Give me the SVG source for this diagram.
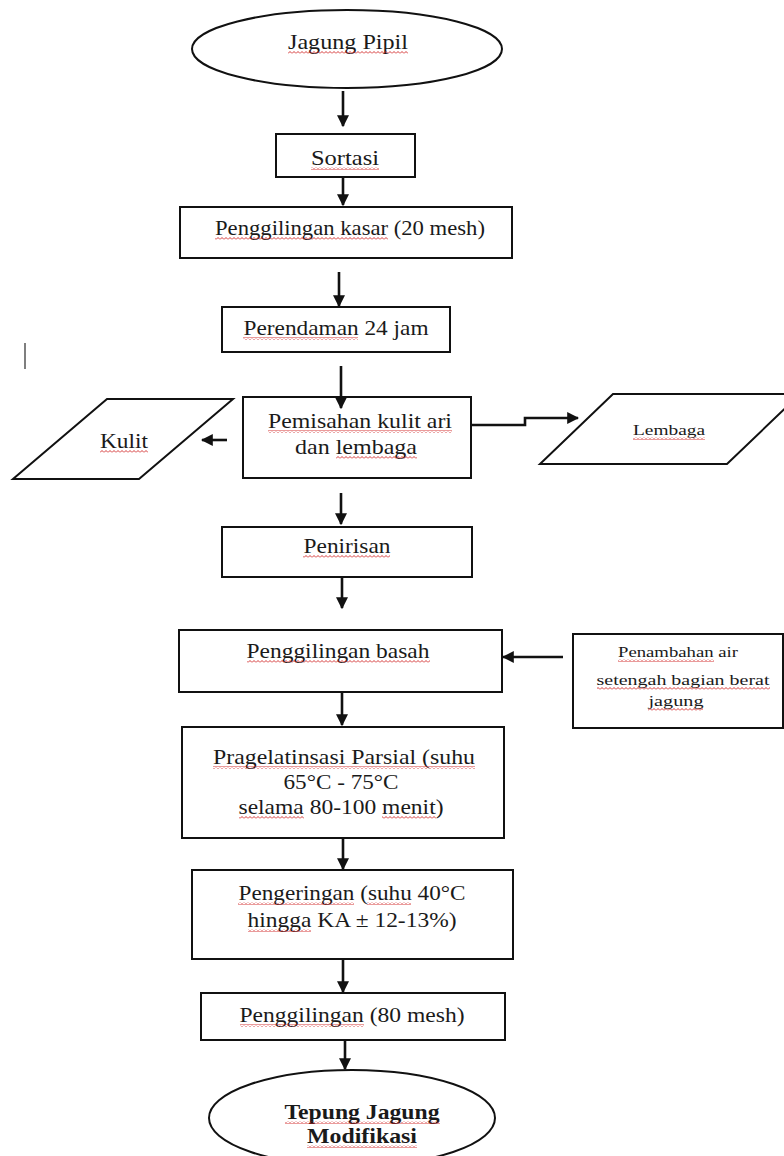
<svg xmlns="http://www.w3.org/2000/svg" width="784" height="1156" viewBox="0 0 784 1156">
<style>
.n{fill:#fff;stroke:#111;stroke-width:2}
.t{font-family:"Liberation Serif","Times New Roman",serif;font-size:21px;fill:#1a1a1a;text-anchor:middle}
.s{font-size:15px}
.b{font-weight:bold}
.c{fill:none;stroke:#111;stroke-width:2.6}
.sq{fill:url(#sq)}
</style>
<defs>
<marker id="ah" markerUnits="userSpaceOnUse" markerWidth="12" markerHeight="12" viewBox="0 0 10 10" refX="9" refY="5" orient="auto">
<path d="M0,0 L10,5 L0,10 z" fill="#111"/>
</marker>
<pattern id="sq" patternUnits="userSpaceOnUse" width="4" height="3">
<path d="M0,2.5 L2,0.5 L4,2.5" fill="none" stroke="#d02020" stroke-width="0.9"/>
</pattern>
</defs>
<rect width="784" height="1156" fill="#fff"/>
<line x1="25" y1="343" x2="25" y2="369" stroke="#555" stroke-width="1.5"/>
<g id="jagung-pipil">
<ellipse class="n" cx="347" cy="49" rx="155" ry="39"/>
<text class="t" x="348" y="49" textLength="120" lengthAdjust="spacingAndGlyphs">Jagung Pipil</text>
<rect class="sq" x="288" y="51" width="120" height="3"/>
</g>
<g id="sortasi">
<rect class="n" x="276" y="134" width="139" height="43"/>
<text class="t" x="345" y="165" textLength="68" lengthAdjust="spacingAndGlyphs">Sortasi</text>
<rect class="sq" x="311" y="167" width="68" height="3"/>
</g>
<g id="penggilingan-kasar">
<rect class="n" x="180" y="207" width="332" height="51"/>
<text class="t" x="350" y="235" textLength="270" lengthAdjust="spacingAndGlyphs">Penggilingan kasar (20 mesh)</text>
<rect class="sq" x="215" y="237" width="173" height="3"/>
</g>
<g id="perendaman">
<rect class="n" x="222" y="307" width="228" height="45"/>
<text class="t" x="336" y="335" textLength="185" lengthAdjust="spacingAndGlyphs">Perendaman 24 jam</text>
<rect class="sq" x="243" y="337" width="115" height="3"/>
</g>
<g id="pemisahan">
<rect class="n" x="243" y="397" width="228" height="81"/>
<text class="t" x="360" y="428" textLength="184" lengthAdjust="spacingAndGlyphs">Pemisahan kulit ari</text>
<text class="t" x="356" y="454" textLength="122" lengthAdjust="spacingAndGlyphs">dan lembaga</text>
<rect class="sq" x="268" y="430" width="184" height="3"/>
<rect class="sq" x="336" y="456" width="81" height="3"/>
</g>
<g id="kulit">
<polygon class="n" points="107,399 233,399 139,479 13,479"/>
<text class="t" x="124" y="448" textLength="48" lengthAdjust="spacingAndGlyphs">Kulit</text>
<rect class="sq" x="100" y="450" width="48" height="3"/>
</g>
<g id="lembaga">
<polygon class="n" points="613,394 800,394 727,464 540,464"/>
<text class="t s" x="669" y="435" textLength="72" lengthAdjust="spacingAndGlyphs">Lembaga</text>
<rect class="sq" x="633" y="437" width="72" height="3"/>
</g>
<g id="penirisan">
<rect class="n" x="222" y="527" width="250" height="50"/>
<text class="t" x="347" y="553" textLength="87" lengthAdjust="spacingAndGlyphs">Penirisan</text>
<rect class="sq" x="303" y="555" width="87" height="3"/>
</g>
<g id="penggilingan-basah">
<rect class="n" x="179" y="630" width="323" height="62"/>
<text class="t" x="338" y="658" textLength="183" lengthAdjust="spacingAndGlyphs">Penggilingan basah</text>
<rect class="sq" x="247" y="660" width="183" height="3"/>
</g>
<g id="penambahan-air">
<rect class="n" x="573" y="634" width="210" height="94"/>
<text class="t s" x="678" y="657" textLength="120" lengthAdjust="spacingAndGlyphs">Penambahan air</text>
<text class="t s" x="683" y="685" textLength="173" lengthAdjust="spacingAndGlyphs">setengah bagian berat</text>
<text class="t s" x="676" y="706" textLength="55" lengthAdjust="spacingAndGlyphs">jagung</text>
<rect class="sq" x="618" y="659" width="96" height="3"/>
<rect class="sq" x="597" y="687" width="173" height="3"/>
<rect class="sq" x="648" y="708" width="55" height="3"/>
</g>
<g id="pragelatinisasi">
<rect class="n" x="182" y="727" width="322" height="111"/>
<text class="t" x="344" y="764" textLength="262" lengthAdjust="spacingAndGlyphs">Pragelatinsasi Parsial (suhu</text>
<text class="t" x="341" y="789" textLength="115" lengthAdjust="spacingAndGlyphs">65°C - 75°C</text>
<text class="t" x="341" y="814" textLength="205" lengthAdjust="spacingAndGlyphs">selama 80-100 menit)</text>
<rect class="sq" x="213" y="766" width="262" height="3"/>
<rect class="sq" x="239" y="816" width="65" height="3"/>
<rect class="sq" x="382" y="816" width="54" height="3"/>
</g>
<g id="pengeringan">
<rect class="n" x="192" y="870" width="321" height="89"/>
<text class="t" x="352" y="900" textLength="227" lengthAdjust="spacingAndGlyphs">Pengeringan (suhu 40°C</text>
<text class="t" x="352" y="927" textLength="209" lengthAdjust="spacingAndGlyphs">hingga KA ± 12-13%)</text>
<rect class="sq" x="238" y="902" width="116" height="3"/>
<rect class="sq" x="367" y="902" width="44" height="3"/>
<rect class="sq" x="248" y="929" width="63" height="3"/>
</g>
<g id="penggilingan-80">
<rect class="n" x="201" y="993" width="304" height="47"/>
<text class="t" x="352" y="1022" textLength="225" lengthAdjust="spacingAndGlyphs">Penggilingan (80 mesh)</text>
<rect class="sq" x="240" y="1024" width="124" height="3"/>
</g>
<g id="tepung-jagung-modifikasi">
<ellipse class="n" cx="352" cy="1118" rx="143" ry="48"/>
<text class="t b" x="362" y="1119" textLength="155" lengthAdjust="spacingAndGlyphs">Tepung Jagung</text>
<text class="t b" x="362" y="1143" textLength="110" lengthAdjust="spacingAndGlyphs">Modifikasi</text>
<rect class="sq" x="285" y="1121" width="155" height="3"/>
<rect class="sq" x="307" y="1145" width="110" height="3"/>
</g>
<g id="connectors">
<line class="c" x1="343" y1="91" x2="343" y2="126" marker-end="url(#ah)"/>
<line class="c" x1="343" y1="178" x2="343" y2="205" marker-end="url(#ah)"/>
<line class="c" x1="339" y1="272" x2="339" y2="306" marker-end="url(#ah)"/>
<line class="c" x1="341" y1="366" x2="341" y2="408" marker-end="url(#ah)"/>
<line class="c" x1="227" y1="440" x2="202" y2="440" marker-end="url(#ah)"/>
<path class="c" d="M472,425 H525 V418 H578" marker-end="url(#ah)"/>
<line class="c" x1="341" y1="493" x2="341" y2="524" marker-end="url(#ah)"/>
<line class="c" x1="342" y1="578" x2="342" y2="608" marker-end="url(#ah)"/>
<line class="c" x1="563" y1="657" x2="503" y2="657" marker-end="url(#ah)"/>
<line class="c" x1="342" y1="693" x2="342" y2="725" marker-end="url(#ah)"/>
<line class="c" x1="343" y1="839" x2="343" y2="869" marker-end="url(#ah)"/>
<line class="c" x1="343" y1="960" x2="343" y2="992" marker-end="url(#ah)"/>
<line class="c" x1="345" y1="1041" x2="345" y2="1069" marker-end="url(#ah)"/>
</g>
</svg>
